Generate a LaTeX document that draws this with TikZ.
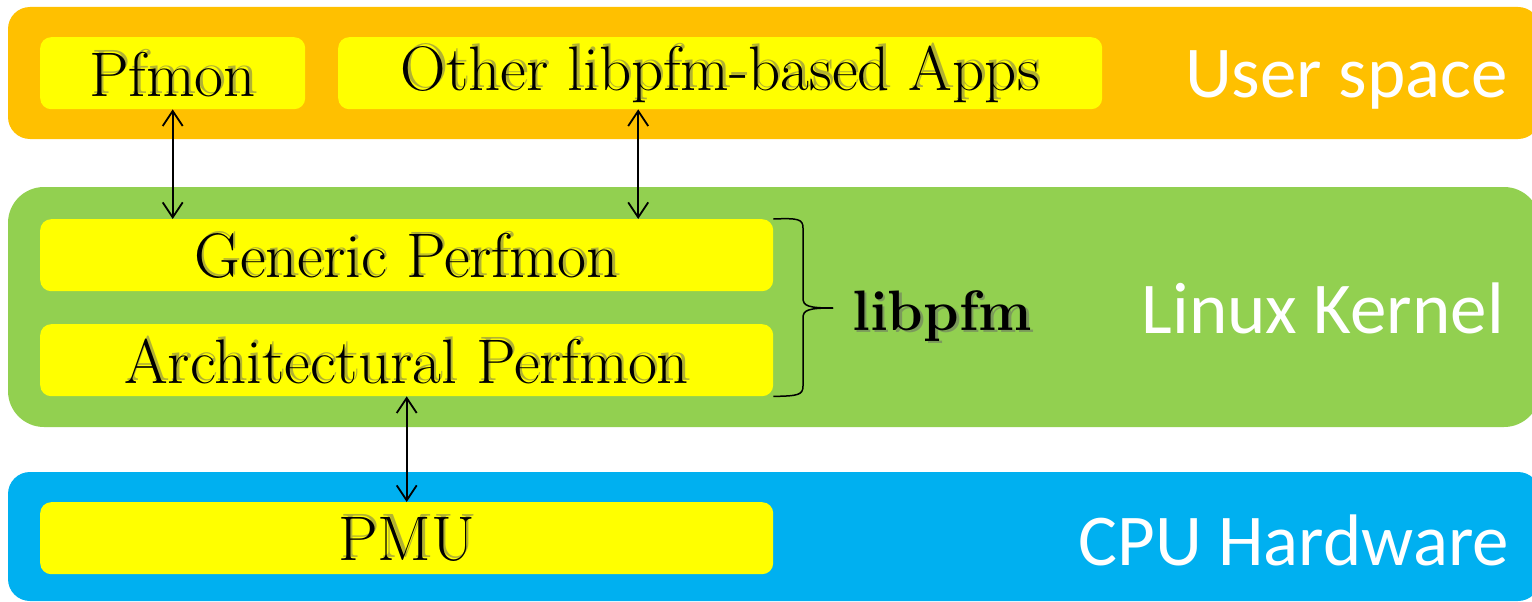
\documentclass[tikz,border=0pt]{standalone}
\usepackage{fontspec}
\newfontfamily\lblfont{Carlito}
\usetikzlibrary{arrows.meta,calc}
\definecolor{orangeband}{HTML}{FFC000}
\definecolor{greenband}{HTML}{92D050}
\definecolor{blueband}{HTML}{00B0F0}
\definecolor{boxyellow}{HTML}{FFFF00}
\tikzset{
  ybox/.style={fill=boxyellow, rounded corners=11pt, inner sep=0pt, anchor=north west},
  serif/.style={font=\fontsize{63}{63}\selectfont},
  shadowtxt/.style={text=black!60, opacity=0.5},
  bandlbl/.style={text=white, font=\lblfont\fontsize{73}{73}\selectfont, anchor=base east, inner sep=0pt},
  arr/.style={line width=1.8pt, {Straight Barb[length=15pt,width=20pt,line width=1.8pt]}-{Straight Barb[length=15pt,width=20pt,line width=1.8pt]}},
}
\newcommand{\shtext}[3]{% name, position, text
  \node[serif, shadowtxt] at ($(#2)+(2.5,-1.5)$) {#3};
  \node[serif] (#1) at ($(#2)+(0,1)$) {#3};
}
\begin{document}
\begin{tikzpicture}[x=1pt,y=-1pt]
\useasboundingbox (0,0) rectangle (1532,602);
% bands
\fill[orangeband, rounded corners=22pt] (8,7) rectangle (1540,139);
\node[inner sep=0pt] (user) at (770,73) {};
\fill[greenband, rounded corners=36pt] (8,187) rectangle (1540,427);
\node[inner sep=0pt] (kernel) at (770,307) {};
\fill[blueband, rounded corners=22pt] (8,472) rectangle (1540,601);
\node[inner sep=0pt] (cpu) at (770,536) {};
% yellow boxes
\node[ybox, minimum width=265pt, minimum height=72pt] (pfmon) at (40,37) {};
\node[ybox, minimum width=764pt, minimum height=72pt] (apps) at (338,37) {};
\node[ybox, minimum width=733pt, minimum height=72pt] (generic) at (40,219) {};
\node[ybox, minimum width=733pt, minimum height=72pt] (arch) at (40,324) {};
\node[ybox, minimum width=733pt, minimum height=72pt] (pmu) at (40,502) {};
% texts
\shtext{pfmontxt}{pfmon.center}{Pfmon}
\shtext{appstxt}{apps.center}{Other libpfm-based Apps}
\shtext{generictxt}{generic.center}{Generic Perfmon}
\shtext{archtxt}{arch.center}{Architectural Perfmon}
\shtext{pmutxt}{pmu.center}{PMU}
% brace
\coordinate (btop) at (generic.north east);
\coordinate (bbot) at (arch.south east);
\coordinate (btip) at (833,308);
\draw[line width=1.5pt] (btop) .. controls (798,218) and (803,219) .. (803,228)
  -- (803,298) .. controls (803,306) and (808,308) .. (btip);
\draw[line width=1.5pt] (bbot) .. controls (798,396) and (803,395) .. (803,386)
  -- (803,318) .. controls (803,310) and (808,308) .. (btip);
\node[font=\fontsize{57}{57}\selectfont\bfseries, text=black!60, opacity=0.5, anchor=base west, inner sep=0pt] at (854.5,332.5) {libpfm};
\node[font=\fontsize{57}{57}\selectfont\bfseries, anchor=base west, inner sep=0pt] (libpfm) at (852,330) {libpfm};
% band labels
\node[bandlbl] (userlbl) at (1508,97) {User space};
\node[bandlbl] (kernellbl) at (1504,333) {Linux Kernel};
\node[bandlbl] (cpulbl) at (1509,565) {CPU Hardware};
% arrows
\draw[arr] (pfmon.south) -- (pfmon.south |- generic.north);
\draw[arr] ([xshift=-82pt]apps.south) -- ([xshift=-82pt]apps.south |- generic.north);
\draw[arr] (arch.south) -- (pmu.north);
\end{tikzpicture}
\end{document}
